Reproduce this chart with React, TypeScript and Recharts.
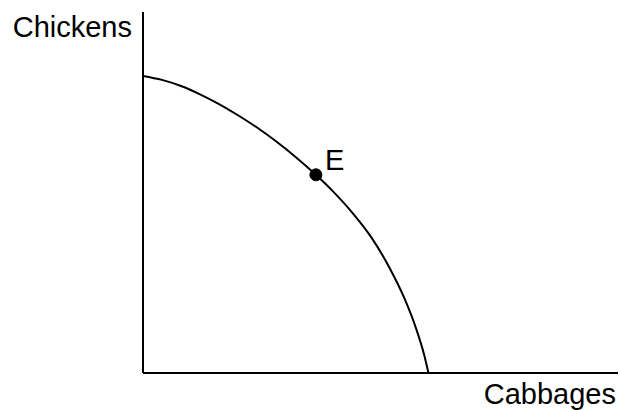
import { LineChart, Line, XAxis, YAxis, ReferenceDot } from 'recharts'

const cabbages = [0, 4, 8, 12, 16, 20, 24, 28, 32, 36.4, 40, 44, 48, 52, 55, 57.5, 59.2, 60.1]
const chickens = [82.3, 81.2, 79.5, 77.2, 74.5, 71.4, 68.0, 64.2, 60.0, 54.9, 50.3, 44.5, 37.7, 28.9, 20.8, 12.3, 5.0, 0]
const pointE = { cabbages: 36.4, chickens: 54.9, label: 'E' }

const data = cabbages.map((c, i) => ({ cabbages: c, chickens: chickens[i] }))

const font = { fontFamily: '"Liberation Sans", Arial, sans-serif', fontSize: 29, fill: '#000' }

export default function App() {
  return (
    <div style={{ position: 'absolute', left: 0, top: 0, width: 620, height: 410, background: '#fff' }}>
      <LineChart width={620} height={410} data={data} margin={{ top: 12, right: 2, left: 0, bottom: 0 }}>
        <XAxis
          type="number"
          dataKey="cabbages"
          domain={[0, 100]}
          height={37}
          tick={false}
          tickLine={false}
          axisLine={{ stroke: '#000', strokeWidth: 2 }}
          label={{
            value: 'Cabbages',
            content: (props: any) => {
              const { x, y, width } = props.viewBox
              return <text x={x + width - 2} y={y + 31} textAnchor="end" {...font}>Cabbages</text>
            },
          }}
        />
        <YAxis
          type="number"
          domain={[0, 100]}
          width={143}
          tick={false}
          tickLine={false}
          axisLine={{ stroke: '#000', strokeWidth: 2 }}
          label={{
            value: 'Chickens',
            content: (props: any) => {
              const { x, y, width } = props.viewBox
              return <text x={x + width - 11} y={y + 25} textAnchor="end" {...font}>Chickens</text>
            },
          }}
        />
        <Line
          type="monotone"
          dataKey="chickens"
          stroke="#000"
          strokeWidth={2}
          dot={false}
          activeDot={false}
          isAnimationActive={false}
        />
        <ReferenceDot
          x={pointE.cabbages}
          y={pointE.chickens}
          r={6}
          fill="#000"
          stroke="#000"
          label={{
            value: pointE.label,
            content: (props: any) => {
              const { x, y, width, height } = props.viewBox
              return <text x={x + width + 3} y={y + height / 2 - 5} {...font}>{pointE.label}</text>
            },
          }}
        />
      </LineChart>
    </div>
  )
}
